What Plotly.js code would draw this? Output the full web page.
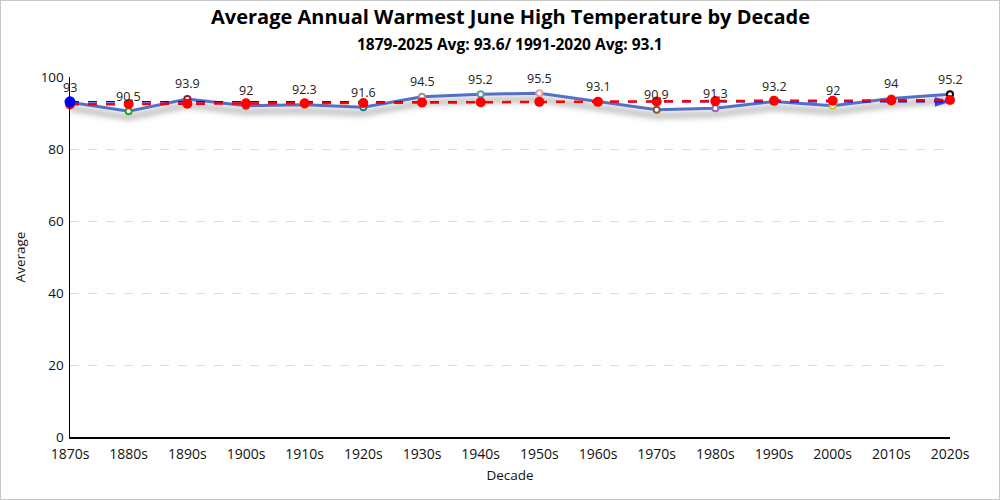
<!DOCTYPE html>
<html>
<head>
<meta charset="utf-8">
<script src="https://cdn.plot.ly/plotly-3.0.1.min.js"></script>
<style>
  body { margin: 0; background: #fff; }
  #wrap { position: relative; width: 1000px; height: 500px; }
  #chart { width: 1000px; height: 500px; }
  #frame { position: absolute; left: 0; top: 0; width: 1000px; height: 500px; box-sizing: border-box; border: 1px solid #c8c8c8; pointer-events: none; }
  .mainline .js-line { filter: drop-shadow(0px 6px 3px rgba(0,0,0,0.5)); }
</style>
</head>
<body>
<div id="wrap"><div id="chart"></div><div id="frame"></div></div>
<script>
const decades = ["1870s","1880s","1890s","1900s","1910s","1920s","1930s","1940s","1950s","1960s","1970s","1980s","1990s","2000s","2010s","2020s"];
const averages = [93, 90.5, 93.9, 92, 92.3, 91.6, 94.5, 95.2, 95.5, 93.1, 90.9, 91.3, 93.2, 92, 94, 95.2];
const pointColors = ["#1f77b4","#2ca02c","#8c1c3c","#d62728","#ff7f0e","#17808a","#999999","#5b9bb5","#e8a0a8","#d62728","#8c5a2a","#8a6fc0","#d62728","#c8c82c","#d62728","#000000"];
const trendValues = [92.4, 92.5, 92.6, 92.7, 92.7, 92.8, 92.9, 93.0, 93.1, 93.1, 93.2, 93.3, 93.4, 93.4, 93.5, 93.6];
const normalEnds = ["1870s", "2020s"];
const normalValue = [93.1, 93.1];
const titleText = "Average Annual Warmest June High Temperature by Decade";
const subtitleText = "1879-2025 Avg: 93.6/ 1991-2020 Avg: 93.1";

const font = "'Open Sans', 'Noto Sans', sans-serif";

const traces = [
  {
    x: decades, y: averages, type: "scatter", mode: "lines+markers",
    line: { color: "#5470c6", width: 3 },
    marker: { size: 6, color: "#ffffff", line: { color: pointColors, width: 2 } },
    hoverinfo: "x+y", cliponaxis: false, showlegend: false
  },
  {
    x: normalEnds, y: normalValue, type: "scatter", mode: "lines+markers",
    line: { color: "#0000ff", width: 1.5, dash: "dash" },
    marker: { symbol: ["circle", "arrow"], angle: [0, 90], size: [0, 16], color: "#0000ff", line: { width: 0 } },
    cliponaxis: false, showlegend: false
  },
  {
    x: decades, y: trendValues, type: "scatter", mode: "lines+markers",
    line: { color: "#ff0000", width: 2.5, dash: "dash" },
    marker: { size: 10, color: "#ff0000" },
    cliponaxis: false, showlegend: false
  },
  {
    x: [normalEnds[0]], y: [normalValue[0]], type: "scatter", mode: "markers",
    marker: { symbol: "circle", size: 11, color: "#0000ff" },
    cliponaxis: false, showlegend: false
  }
];

const labelAnnotations = decades.map((d, i) => ({
  x: d, y: averages[i], xref: "x", yref: "y",
  text: String(averages[i]), showarrow: false,
  yanchor: "middle", yshift: 15,
  font: { family: font, size: 12.5, color: "#222" }
}));

const layout = {
  width: 1000, height: 500,
  margin: { l: 70, r: 50, t: 77, b: 63 },
  paper_bgcolor: "#ffffff", plot_bgcolor: "#ffffff",
  font: { family: font, color: "#111" },
  annotations: labelAnnotations.concat([
    { text: "<b>" + titleText + "</b>", xref: "paper", yref: "paper", x: 0.5, y: 1 + 60/360,
      xanchor: "center", yanchor: "middle", showarrow: false,
      font: { family: font, size: 20, color: "#000" } },
    { text: "<b>" + subtitleText + "</b>", xref: "paper", yref: "paper", x: 0.5, y: 1 + 33/360,
      xanchor: "center", yanchor: "middle", showarrow: false,
      font: { family: font, size: 15.5, color: "#000" } }
  ]),
  xaxis: {
    type: "category", range: [0, 15],
    showline: true, linecolor: "#000", linewidth: 1.5,
    showgrid: false, zeroline: false,
    ticks: "", ticklabelstandoff: 4,
    tickfont: { family: font, size: 14, color: "#111" },
    title: { text: "Decade", font: { family: font, size: 13.5, color: "#111" }, standoff: 8 }
  },
  yaxis: {
    range: [0, 100], dtick: 20, tick0: 0,
    showline: true, linecolor: "#000", linewidth: 1.5,
    showgrid: true, gridcolor: "#dddddd", griddash: "dash", gridwidth: 1,
    zeroline: false, ticks: "", ticklabelstandoff: 2,
    tickfont: { family: font, size: 13.5, color: "#111" },
    title: { text: "Average", font: { family: font, size: 13.5, color: "#111" }, standoff: 12 }
  }
};

Plotly.newPlot("chart", traces, layout, { displayModeBar: false, staticPlot: true }).then(() => {
  const t = document.querySelectorAll(".scatterlayer .trace")[0];
  if (t) t.classList.add("mainline");
});
</script>
</body>
</html>
